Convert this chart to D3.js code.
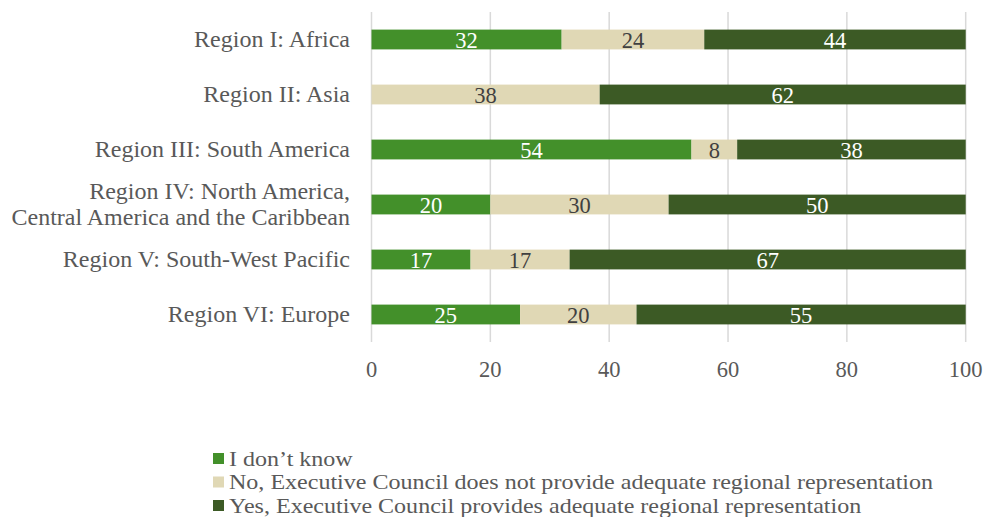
<!DOCTYPE html>
<html>
<head>
<meta charset="utf-8">
<script src="https://cdn.jsdelivr.net/npm/d3@7"></script>
<style>
  html, body { margin: 0; padding: 0; background: #fff; }
  svg { display: block; }
  text { font-family: "Liberation Serif", "Times New Roman", serif; }
</style>
</head>
<body>
<svg id="chart" width="985" height="517"></svg>
<script>
const categories = [
  ["Region I: Africa"],
  ["Region II: Asia"],
  ["Region III: South America"],
  ["Region IV: North America,", "Central America and the Caribbean"],
  ["Region V: South-West Pacific"],
  ["Region VI: Europe"]
];
const seriesNames = [
  "I don\u2019t know",
  "No, Executive Council does not provide adequate regional representation",
  "Yes, Executive Council provides adequate regional representation"
];
const dontKnow = [32, 0, 53.85, 20, 16.67, 25];
const no       = [24, 38.4, 7.69, 30, 16.67, 19.6];
const yes      = [44, 61.6, 38.46, 50, 66.67, 55.4];
const xTicks   = [0, 20, 40, 60, 80, 100];

const colors = ["#43902A", "#E0D8B5", "#3C5A25"];
const labelColors = ["#ffffff", "#404040", "#ffffff"];

const svg = d3.select("#chart");
const margin = { left: 371.5, right: 19.3, top: 12, bottom: 175 };
const W = 985, H = 517;

const x = d3.scaleLinear().domain([0, 100]).range([margin.left, W - margin.right]);
const idx = categories.map((_, i) => i);
const y = d3.scaleBand().domain(idx).range([margin.top, H - margin.bottom]).paddingInner(0.64).paddingOuter(0.32);

// gridlines
svg.append("g")
  .selectAll("line")
  .data(xTicks)
  .join("line")
  .attr("x1", d => x(d)).attr("x2", d => x(d))
  .attr("y1", margin.top).attr("y2", H - margin.bottom)
  .attr("stroke", "#d9d9d9").attr("stroke-width", 1.5);

// stacked data
const rows = idx.map(i => ({ i, v: [dontKnow[i], no[i], yes[i]] }));
const segs = [];
rows.forEach(r => {
  let acc = 0;
  r.v.forEach((v, s) => {
    segs.push({ i: r.i, s, x0: acc, x1: acc + v, v });
    acc += v;
  });
});

svg.append("g")
  .selectAll("rect")
  .data(segs.filter(d => d.v > 0))
  .join("rect")
  .attr("x", d => x(d.x0))
  .attr("width", d => x(d.x1) - x(d.x0))
  .attr("y", d => y(d.i))
  .attr("height", y.bandwidth())
  .attr("fill", d => colors[d.s]);

svg.append("g")
  .selectAll("text")
  .data(segs.filter(d => d.v > 0))
  .join("text")
  .attr("x", d => (x(d.x0) + x(d.x1)) / 2)
  .attr("y", d => y(d.i) + y.bandwidth() / 2 + 8)
  .attr("text-anchor", "middle")
  .attr("font-size", 22.5)
  .attr("fill", d => labelColors[d.s])
  .text(d => d3.format(".0f")(d.v));

// category labels
const catG = svg.append("g");
categories.forEach((lines, i) => {
  const cy = y(i) + y.bandwidth() / 2;
  const n = lines.length;
  lines.forEach((ln, k) => {
    catG.append("text")
      .attr("x", 350)
      .attr("y", cy + 7.5 + (k - (n - 1) / 2) * 26.5)
      .attr("text-anchor", "end")
      .attr("font-size", 24)
      .attr("fill", "#595959")
      .text(ln);
  });
});

// x axis tick labels
svg.append("g")
  .selectAll("text")
  .data(xTicks)
  .join("text")
  .attr("x", d => x(d))
  .attr("y", 377)
  .attr("text-anchor", "middle")
  .attr("font-size", 22.5)
  .attr("fill", "#595959")
  .text(d => d);

// legend
const leg = svg.append("g");
seriesNames.forEach((name, s) => {
  const ly = 458.5 + s * 23.5;
  leg.append("rect")
    .attr("x", 213).attr("y", ly - 5.5)
    .attr("width", 11).attr("height", 11)
    .attr("fill", colors[s]);
  leg.append("text")
    .attr("transform", `translate(229,${ly + 7}) scale(1.145,1)`)
    .attr("font-size", 21)
    .attr("fill", "#595959")
    .text(name);
});
</script>
</body>
</html>
